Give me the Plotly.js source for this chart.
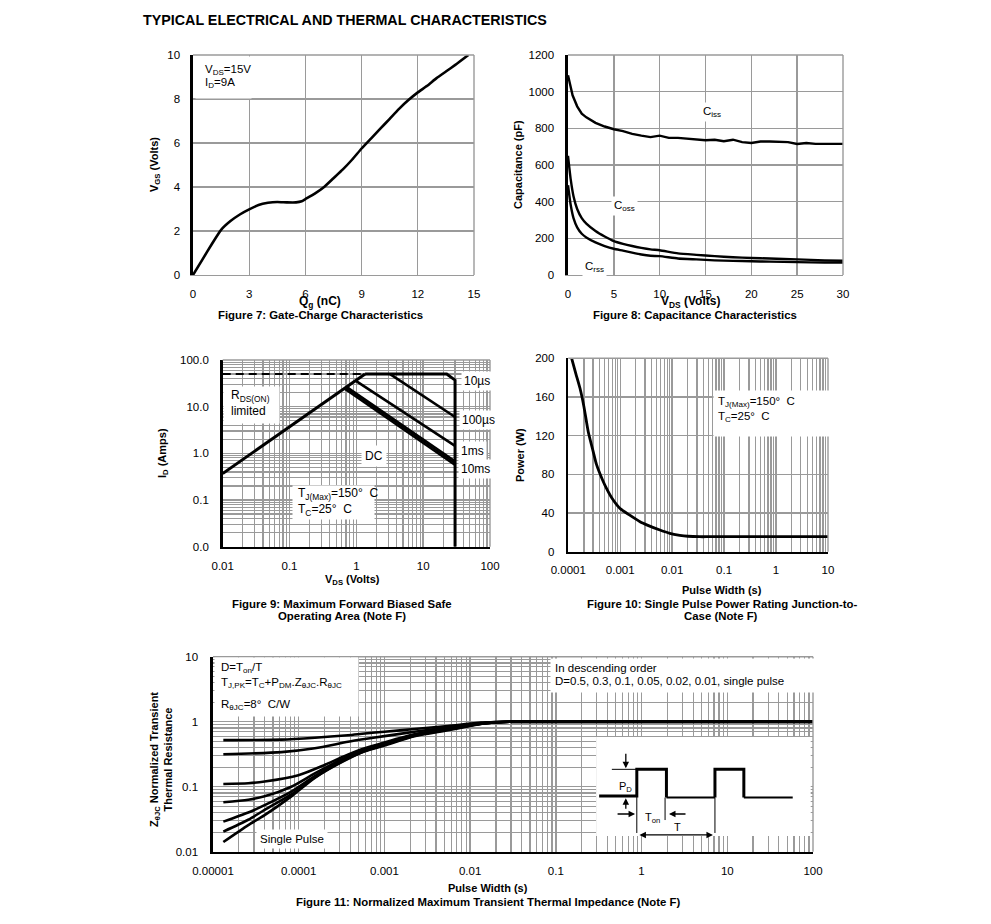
<!DOCTYPE html>
<html><head><meta charset="utf-8">
<script src="https://cdn.plot.ly/plotly-3.0.1.min.js"></script>
<style>body{margin:0;background:#fff}#c{width:991px;height:924px}</style>
</head><body><div id="c"></div>
<script>
// ---------- Figure 7: gate charge ----------
const qg  = [0,0.5,1,1.5,2,2.5,3,3.5,4,4.5,5,5.5,5.8,6,6.5,7,7.5,8,8.5,9,9.5,10,10.5,11,11.5,12,12.5,13,13.5,14,14.7];
const vgs = [0,0.7,1.4,2.05,2.45,2.75,2.98,3.18,3.28,3.32,3.3,3.3,3.35,3.45,3.7,4.0,4.4,4.8,5.25,5.75,6.2,6.65,7.1,7.55,7.95,8.3,8.6,8.95,9.25,9.55,10.0];
const f7xTicks = [0,3,6,9,12,15];
const f7yTicks = [0,2,4,6,8,10];

// ---------- Figure 8: capacitance ----------
const vdsIss = [0,0.2,0.5,1,1.5,2,3,4,5,6,7,8,9,10,11,12,13,14,15,16,17,18,19,20,21,22,23,24,25,26,27,28,30];
const ciss   = [1090,1050,980,920,880,860,830,810,795,785,770,760,752,760,748,748,745,738,735,738,730,738,725,720,728,728,728,725,715,720,715,715,715];
const vdsOss = [0,0.3,0.6,1,1.5,2,3,4,5,6,7,8,9,10,12,14,16,18,20,22,25,28,30];
const coss   = [650,520,430,360,310,280,240,210,185,170,158,148,140,135,118,110,103,97,93,90,85,80,78];
const crss   = [490,380,310,260,225,205,178,158,143,133,122,112,105,103,90,85,80,77,75,73,70,68,68];

// ---------- Figure 9: SOA ----------
const rdsV = [0.01,1.35],          rdsI = [0.37,50];
const dashV = [0.01,1.35],         dashI = [50,50];
const us10V = [1.35,22.5,30,30],   us10I = [50,50,37,0.01];
const us100V = [3.2,30],           us100I = [50,6.0];
const ms1V = [0.97,30],            ms1I = [36,1.45];
const ms10V = [0.72,30],           ms10I = [26.6,0.68];
const ms100V = [0.69,30],          ms100I = [25.5,0.62];
const dcV = [0.66,30],             dcI = [24.4,0.56];
const f9Ticks = [0.01,0.1,1,10,100];
const f9xText = ['0.01','0.1','1','10','100'];
const f9yText = ['0.0','0.1','1.0','10.0','100.0'];

// ---------- Figure 10: single pulse power ----------
const pw10  = [0.000116,0.00014,0.000168,0.0002,0.000242,0.0003,0.00035,0.00045,0.00055,0.0007,0.00098,0.0015,0.0024,0.0035,0.0058,0.009,0.014,0.02,0.034,0.05,0.1,1,10];
const pwr10 = [200,184,169,150,124,104,90,75,65,55,45,38,31,27,22.4,19,17,16,15.5,15.5,15.5,15.5,15.5];
const f10xTicks = [0.0001,0.001,0.01,0.1,1,10];
const f10xText = ['0.0001','0.001','0.01','0.1','1','10'];
const f10yTicks = [0,40,80,120,160,200];

// ---------- Figure 11: transient thermal impedance ----------
const tHi  = [1.32e-5,6.3e-5,1.54e-4,3.76e-4,5.9e-4,1e-3,2.24e-3,5.5e-3,0.0134,0.02,0.03,100];
const z05  = [0.52,0.53,0.567,0.62,0.66,0.70,0.77,0.86,0.97,0.99,1.0,1.0];
const z03  = [0.316,0.34,0.39,0.49,0.54,0.60,0.70,0.82,0.95,0.985,1.0,1.0];
const tD01 = [1.32e-5,2.58e-5,4e-5,9.9e-5,2e-4,3.3e-4,5.9e-4,1e-3,2.24e-3,5.5e-3,0.0134,0.02,0.03,100];
const z01  = [0.11,0.113,0.12,0.15,0.216,0.29,0.39,0.48,0.64,0.78,0.94,0.98,1.0,1.0];
const tLo  = [1.32e-5,2.58e-5,4e-5,8.2e-5,1.54e-4,3.3e-4,5.9e-4,1e-3,2.24e-3,5.5e-3,0.0134,0.02,0.03,100];
const z005 = [0.0575,0.063,0.071,0.1,0.16,0.27,0.375,0.46,0.63,0.77,0.94,0.98,1.0,1.0];
const z002 = [0.029,0.04,0.052,0.084,0.145,0.26,0.365,0.45,0.62,0.76,0.93,0.975,1.0,1.0];
const z001 = [0.0204,0.031,0.044,0.076,0.139,0.25,0.355,0.44,0.61,0.75,0.93,0.975,1.0,1.0];
const zsp  = [0.0141,0.0257,0.0365,0.071,0.137,0.245,0.35,0.43,0.60,0.74,0.92,0.97,1.0,1.0];
const flatT = [0.03,100], flatZ = [1.0,1.0];
const f11xTicks = [0.00001,0.0001,0.001,0.01,0.1,1,10,100];
const f11xText = ['0.00001','0.0001','0.001','0.01','0.1','1','10','100'];
const f11yTicks = [0.01,0.1,1,10];
const f11yText = ['0.01','0.1','1','10'];
// inset pulse diagram (in Figure 11 data units)
const insetBoxX = [0.295,94,94,0.295,0.295], insetBoxY = [0.0175,0.0175,0.582,0.582,0.0175];
const pulse1X = [0.32,0.88,0.88,1.95,1.95], pulse1Y = [0.072,0.072,0.185,0.185,0.068];
const lowX = [1.95,7.18], lowY = [0.068,0.068];
const pulse2X = [7.18,7.18,15.6,15.6], pulse2Y = [0.068,0.185,0.185,0.068];
const tailX = [15.6,58], tailY = [0.068,0.068];
const refX = [0.45,0.88], refY = [0.185,0.185];
const mark1X = [0.88,0.88], mark1Y = [0.072,0.0194];
const mark2X = [1.88,1.88], mark2Y = [0.068,0.0307];
const mark3X = [7.18,7.18], mark3Y = [0.068,0.0194];
const arrowX = [0.655,0.655,0.84,2.09,6.8];
const arrowY = [0.192,0.0664,0.038,0.038,0.0181];

// ---------- helpers ----------
const W = 991, H = 924;
const px = v => v / W, py = v => 1 - v / H;
const FONT = 'Liberation Sans, Arial, Helvetica, sans-serif';
const GRID = '#9a9a9a';
const BLK = '#000';

function ln(x, y, xa, ya, width, extra) {
  return Object.assign({x: x, y: y, xaxis: xa, yaxis: ya, mode: 'lines', hoverinfo: 'skip',
    line: {color: BLK, width: width}}, extra || {});
}

const traces = [
  // Fig 7
  ln(qg, vgs, 'x', 'y', 2.6, {line: {color: BLK, width: 2.6, shape: 'spline', smoothing: 0.4}}),
  // Fig 8
  ln(vdsIss, ciss, 'x2', 'y2', 2.4),
  ln(vdsOss, coss, 'x2', 'y2', 2.4, {line: {color: BLK, width: 2.4, shape: 'spline', smoothing: 0.5}}),
  ln(vdsOss, crss, 'x2', 'y2', 2.4, {line: {color: BLK, width: 2.4, shape: 'spline', smoothing: 0.5}}),
  // Fig 9
  ln(dashV, dashI, 'x3', 'y3', 2, {line: {color: BLK, width: 2, dash: '8px,5px'}}),
  ln(rdsV, rdsI, 'x3', 'y3', 3),
  ln(us10V, us10I, 'x3', 'y3', 3),
  ln(us100V, us100I, 'x3', 'y3', 2.6),
  ln(ms1V, ms1I, 'x3', 'y3', 2.6),
  ln(ms10V, ms10I, 'x3', 'y3', 2.2),
  ln(ms100V, ms100I, 'x3', 'y3', 2.2),
  ln(dcV, dcI, 'x3', 'y3', 2.2),
  // Fig 10
  ln(pw10, pwr10, 'x4', 'y4', 2.8, {line: {color: BLK, width: 2.8, shape: 'spline', smoothing: 0.6}}),
  // Fig 11 inset box
  {x: insetBoxX, y: insetBoxY, xaxis: 'x5', yaxis: 'y5', mode: 'lines', fill: 'toself',
   fillcolor: '#fff', line: {width: 0, color: '#fff'}, hoverinfo: 'skip'},
];
[[tHi, z05], [tHi, z03], [tD01, z01], [tLo, z005], [tLo, z002], [tLo, z001], [tLo, zsp]].forEach(c => {
  traces.push(ln(c[0], c[1], 'x5', 'y5', 2.6, {line: {color: BLK, width: 2.6, shape: 'spline', smoothing: 0.7}}));
});
traces.push(ln(flatT, flatZ, 'x5', 'y5', 3.4));
traces.push(ln(pulse1X, pulse1Y, 'x5', 'y5', 3));
traces.push(ln(lowX, lowY, 'x5', 'y5', 2));
traces.push(ln(pulse2X, pulse2Y, 'x5', 'y5', 3));
traces.push(ln(tailX, tailY, 'x5', 'y5', 2));
[[refX, refY], [mark1X, mark1Y], [mark2X, mark2Y], [mark3X, mark3Y]].forEach(c => {
  traces.push(ln(c[0], c[1], 'x5', 'y5', 1));
});

function linAxis(dom, range, tickvals, anchor, lineColor, standoff) {
  return {domain: dom, range: range, tickmode: 'array', tickvals: tickvals, anchor: anchor,
    showgrid: true, gridcolor: GRID, gridwidth: 1.4, zeroline: false,
    showline: true, linecolor: lineColor, linewidth: lineColor === BLK ? 2.6 : 1.4,
    ticks: '', ticklabelstandoff: standoff, fixedrange: true,
    tickfont: {family: FONT, size: 11.5, color: BLK}};
}
function logAxis(dom, range, tickvals, ticktext, anchor, standoff) {
  return {type: 'log', domain: dom, range: range, tickmode: 'array', tickvals: tickvals, ticktext: ticktext,
    anchor: anchor, showgrid: true, gridcolor: GRID, gridwidth: 1.4, zeroline: false,
    minor: {dtick: 'D1', showgrid: true, gridcolor: GRID, gridwidth: 1.2, ticks: ''},
    showline: true, linecolor: BLK, linewidth: 2.6,
    ticks: '', ticklabelstandoff: standoff, fixedrange: true,
    tickfont: {family: FONT, size: 11.5, color: BLK}};
}

const layout = {
  width: W, height: H, margin: {l: 0, r: 0, t: 0, b: 0},
  paper_bgcolor: '#fff', plot_bgcolor: '#fff', showlegend: false,
  font: {family: FONT, size: 11.5, color: BLK},
  xaxis:  linAxis([px(193), px(474)], [0, 15], f7xTicks, 'y', GRID, 8),
  yaxis:  linAxis([py(275), py(55)], [0, 10], f7yTicks, 'x', BLK, 8),
  xaxis2: linAxis([px(568), px(843)], [0, 30], [0,5,10,15,20,25,30], 'y2', GRID, 8),
  yaxis2: linAxis([py(275), py(55)], [0, 1200], [0,200,400,600,800,1000,1200], 'x2', BLK, 9),
  xaxis3: logAxis([px(222.7), px(490)], [-2, 2], f9Ticks, f9xText, 'y3', 7),
  yaxis3: logAxis([py(546.7), py(360)], [-2, 2], f9Ticks, f9yText, 'x3', 9),
  xaxis4: logAxis([px(568.3), px(828)], [-4, 1], f10xTicks, f10xText, 'y4', 6),
  yaxis4: linAxis([py(551.7), py(358.3)], [0, 200], f10yTicks, 'x4', BLK, 9),
  xaxis5: logAxis([px(213), px(813)], [-5, 2], f11xTicks, f11xText, 'y5', 7),
  yaxis5: logAxis([py(851.7), py(656.7)], [-2, 1], f11yTicks, f11yText, 'x5', 10),
  shapes: [], annotations: []
};

// top/right grey frame edges
[['x', 'y'], ['x2', 'y2'], ['x3', 'y3'], ['x4', 'y4'], ['x5', 'y5']].forEach(p => {
  layout.shapes.push({type: 'line', xref: p[0] + ' domain', yref: p[1] + ' domain', x0: 0, x1: 1, y0: 1, y1: 1,
    line: {color: GRID, width: 1.4}, layer: 'above'});
  layout.shapes.push({type: 'line', xref: p[0] + ' domain', yref: p[1] + ' domain', x0: 1, x1: 1, y0: 0, y1: 1,
    line: {color: GRID, width: 1.4}, layer: 'above'});
});

const A = layout.annotations;
function T(text, x, y, opt) {
  A.push(Object.assign({text: text, xref: 'paper', yref: 'paper', x: px(x), y: py(y), showarrow: false,
    xanchor: 'center', yanchor: 'middle', font: {family: FONT, size: 11.5, color: BLK}}, opt || {}));
}
function B(l, t, r, b) {
  A.push({text: ' ', xref: 'paper', yref: 'paper', x: px(l), y: py(t), xanchor: 'left', yanchor: 'top',
    width: r - l, height: b - t, bgcolor: '#fff', borderpad: 0, showarrow: false});
}
const bold = (size) => ({font: {family: FONT, size: size || 11, color: BLK}});

// titles and captions
T('<b>TYPICAL ELECTRICAL AND THERMAL CHARACTERISTICS</b>', 141, 20, {xanchor: 'left', font: {family: FONT, size: 14.3, color: BLK}});
T('<b>Figure 7: Gate-Charge Characteristics</b>', 320.5, 315, bold(11.4));
T('<b>Figure 8: Capacitance Characteristics</b>', 695, 315, bold(11.4));
T('<b>Figure 9: Maximum Forward Biased Safe</b>', 342, 604, bold(11.4));
T('<b>Operating Area (Note F)</b>', 342, 616, bold(11.4));
T('<b>Figure 10: Single Pulse Power Rating Junction-to-</b>', 722, 604, bold(11.4));
T('<b>Case (Note F)</b>', 721, 616, bold(11.4));
T('<b>Figure 11: Normalized Maximum Transient Thermal Impedance (Note F)</b>', 488, 902, bold(11.4));
// axis titles
T('<b>Q<sub>g</sub> (nC)</b>', 320, 302, bold(12));
T('<b>V<sub>GS</sub> (Volts)</b>', 155, 165, Object.assign(bold(11), {textangle: -90}));
T('<b>V<sub>DS</sub> (Volts)</b>', 690, 302, bold(12));
T('<b>Capacitance (pF)</b>', 518, 165, Object.assign(bold(11), {textangle: -90}));
T('<b>V<sub>DS</sub> (Volts)</b>', 352, 580, bold(11));
T('<b>I<sub>D</sub> (Amps)</b>', 163, 453, Object.assign(bold(11), {textangle: -90}));
T('<b>Pulse Width (s)</b>', 722, 590, bold(11));
T('<b>Power (W)</b>', 520, 455, Object.assign(bold(11), {textangle: -90}));
T('<b>Pulse Width (s)</b>', 488, 888, bold(11));
T('<b>Z<sub>θJC</sub> Normalized Transient<br>Thermal Resistance</b>', 161, 760, Object.assign(bold(11), {textangle: -90}));

// Fig 7 label
B(195, 56, 250, 97);
T('V<sub>DS</sub>=15V', 203, 70, {xanchor: 'left'});
T('I<sub>D</sub>=9A', 203, 83, {xanchor: 'left'});
// Fig 8 labels
T('C<sub>iss</sub>', 712, 112, {bgcolor: '#fff', borderpad: 2});
T('C<sub>oss</sub>', 624, 206, {bgcolor: '#fff', borderpad: 2});
T('C<sub>rss</sub>', 594, 267, {bgcolor: '#fff', borderpad: 2});
// Fig 9 labels
B(223, 386, 278, 422);
T('R<sub>DS(ON)</sub>', 229, 396, {xanchor: 'left', font: {family: FONT, size: 12, color: BLK}});
T('limited', 229, 411, {xanchor: 'left', font: {family: FONT, size: 12, color: BLK}});
T('DC', 374, 456, {bgcolor: '#fff', borderpad: 3, font: {family: FONT, size: 12, color: BLK}});
T('10µs', 477, 381, {bgcolor: '#fff', borderpad: 2, font: {family: FONT, size: 12, color: BLK}});
T('100µs', 478, 420, {bgcolor: '#fff', borderpad: 2, font: {family: FONT, size: 12, color: BLK}});
T('1ms', 472, 451, {bgcolor: '#fff', borderpad: 2, font: {family: FONT, size: 12, color: BLK}});
T('10ms', 475, 469, {bgcolor: '#fff', borderpad: 2, font: {family: FONT, size: 12, color: BLK}});
B(292, 485, 373, 518);
T('T<sub>J(Max)</sub>=150°\u00a0 C', 296, 494, {xanchor: 'left', font: {family: FONT, size: 12, color: BLK}});
T('T<sub>C</sub>=25°\u00a0 C', 296, 510, {xanchor: 'left', font: {family: FONT, size: 12, color: BLK}});
// Fig 10 labels
B(713, 390, 828, 435);
T('T<sub>J(Max)</sub>=150°\u00a0 C', 716, 402, {xanchor: 'left'});
T('T<sub>C</sub>=25°\u00a0 C', 716, 417, {xanchor: 'left'});
// Fig 11 labels
B(214, 657, 357, 715);
T('D=T<sub>on</sub>/T', 219, 668, {xanchor: 'left'});
T('T<sub>J,PK</sub>=T<sub>C</sub>+P<sub>DM</sub>.Z<sub>θJC</sub>.R<sub>θJC</sub>', 219, 683, {xanchor: 'left'});
T('R<sub>θJC</sub>=8°\u00a0 C/W', 219, 705, {xanchor: 'left'});
B(550, 658, 813, 691);
T('In descending order', 553, 668, {xanchor: 'left'});
T('D=0.5, 0.3, 0.1, 0.05, 0.02, 0.01, single pulse', 553, 681, {xanchor: 'left'});
T('Single Pulse', 292, 839, {bgcolor: '#fff', borderpad: 3});
T('P<sub>D</sub>', 625, 787, {font: {family: FONT, size: 11, color: BLK}});
T('T<sub>on</sub>', 652, 818, {font: {family: FONT, size: 11, color: BLK}});
T('T', 677, 827, {font: {family: FONT, size: 11, color: BLK}});
// inset arrows (data coordinates of figure 11)
const arrowOff = [[0, -16], [0, 12], [-19, 0], [18, 0], [-75, 0]];
arrowX.forEach((xv, i) => {
  A.push({xref: 'x5', yref: 'y5', x: Math.log10(xv), y: Math.log10(arrowY[i]), text: '', showarrow: true,
    ax: arrowOff[i][0], ay: arrowOff[i][1], arrowhead: 2, arrowsize: 1, arrowwidth: 1.3, arrowcolor: BLK,
    arrowside: i === 4 ? 'end+start' : 'end'});
});

Plotly.newPlot('c', traces, layout, {staticPlot: true, displayModeBar: false});
</script></body></html>
